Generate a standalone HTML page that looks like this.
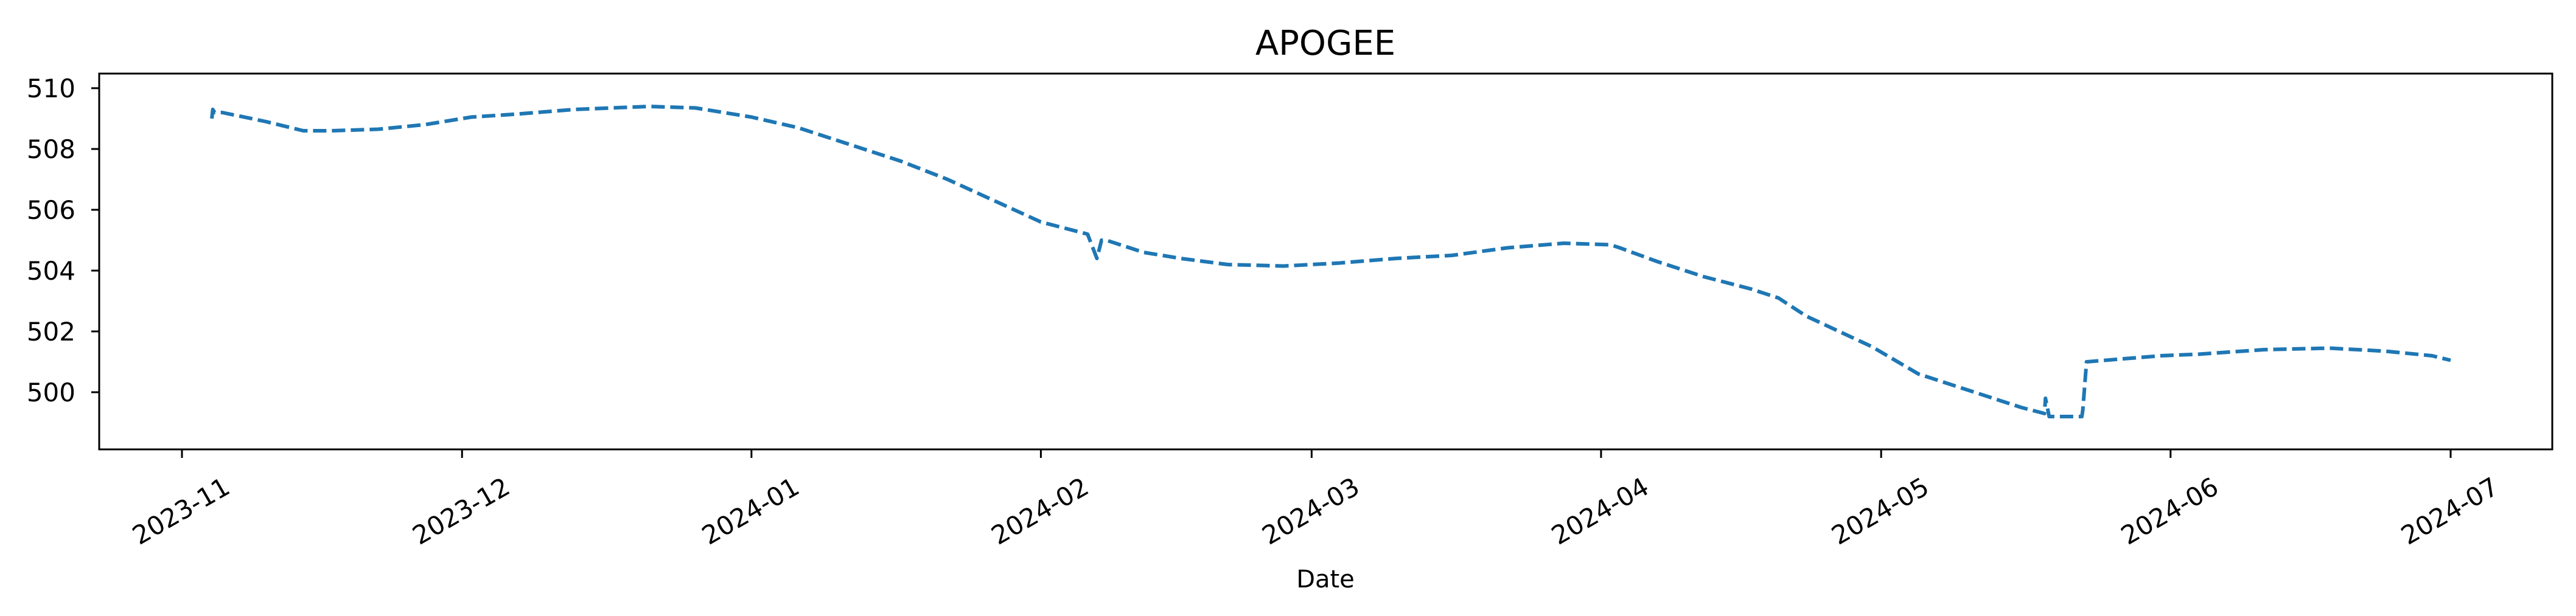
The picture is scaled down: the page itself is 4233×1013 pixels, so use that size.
<!DOCTYPE html>
<html><head><meta charset="utf-8"><style>body{margin:0;background:#fff}svg{display:block}</style></head>
<body>
<svg id="chart" width="4233" height="1013" xmlns="http://www.w3.org/2000/svg" font-family="'DejaVu Sans','Liberation Sans',sans-serif">
<rect width="4233" height="1013" fill="#fff"/>
<text x="2178" y="90" font-size="56" text-anchor="middle">APOGEE</text>
<text x="2178" y="966" font-size="40" text-anchor="middle">Date</text>
<g id="plot"></g>
<rect x="163" y="121" width="4031" height="618" fill="none" stroke="#000" stroke-width="3"/>
</svg>
<script>
// days since 2023-11-01
const days = [3.2,3.3,3.5,4.3,9,13,16,21,26,30,31,36,42,50,55,61,66,71,77,82,87,92,97,98,98.5,99,103,107,112,118,124,130,136,142,148,153,154,158,163,168,171,174,181,186,192,197,199.5,199.6,200,201,203.5,203.6,204,212,216,223,230,236,241,243];
const values = [509.0,509.3,509.2,509.2,508.9,508.6,508.6,508.65,508.8,509.0,509.05,509.15,509.3,509.4,509.35,509.05,508.7,508.2,507.6,507.0,506.3,505.6,505.2,504.4,505.0,505.0,504.6,504.4,504.2,504.15,504.25,504.4,504.5,504.75,504.9,504.85,504.75,504.3,503.8,503.4,503.1,502.5,501.5,500.6,500.0,499.5,499.3,499.8,499.2,499.2,499.2,499.4,501.0,501.2,501.25,501.4,501.45,501.35,501.2,501.05];
const xTickLabels = ["2023-11","2023-12","2024-01","2024-02","2024-03","2024-04","2024-05","2024-06","2024-07"];
const xTickDays = [0,30,61,92,121,152,182,213,243];
const yTicks = [500,502,504,506,508,510];

const NS = "http://www.w3.org/2000/svg";
const g = document.getElementById('plot');
const xs = d => 299 + d * (3728/243);
const ys = v => 645 - (v - 500) * 50;
function el(tag, attrs){const e=document.createElementNS(NS,tag);for(const k in attrs)e.setAttribute(k,attrs[k]);g.appendChild(e);return e;}

yTicks.forEach(v=>{
  const t=el('line',{x1:150,x2:163,y1:ys(v),y2:ys(v),stroke:'#000','stroke-width':3});
  
  
  const l=el('text',{x:124,y:ys(v)+15,'font-size':42,'text-anchor':'end'});
  l.textContent=v;
  
  
});
xTickDays.forEach((d,i)=>{
  const x=xs(d);
  const t=el('line',{x1:x,x2:x,y1:739,y2:753,stroke:'#000','stroke-width':3});
  
  
  const l=el('text',{x:x,y:843,'font-size':42,'text-anchor':'middle','dominant-baseline':'middle',transform:`rotate(-30 ${x} 843)`});
  l.textContent=xTickLabels[i];
  
  
});
const pts = days.map((d,i)=>xs(d).toFixed(1)+','+ys(values[i]).toFixed(1)).join(' ');
const line=el('polyline',{points:pts,fill:'none',stroke:'#1f77b4','stroke-width':6,'stroke-dasharray':'22,9','stroke-linejoin':'round'});


</script>
</body></html>
